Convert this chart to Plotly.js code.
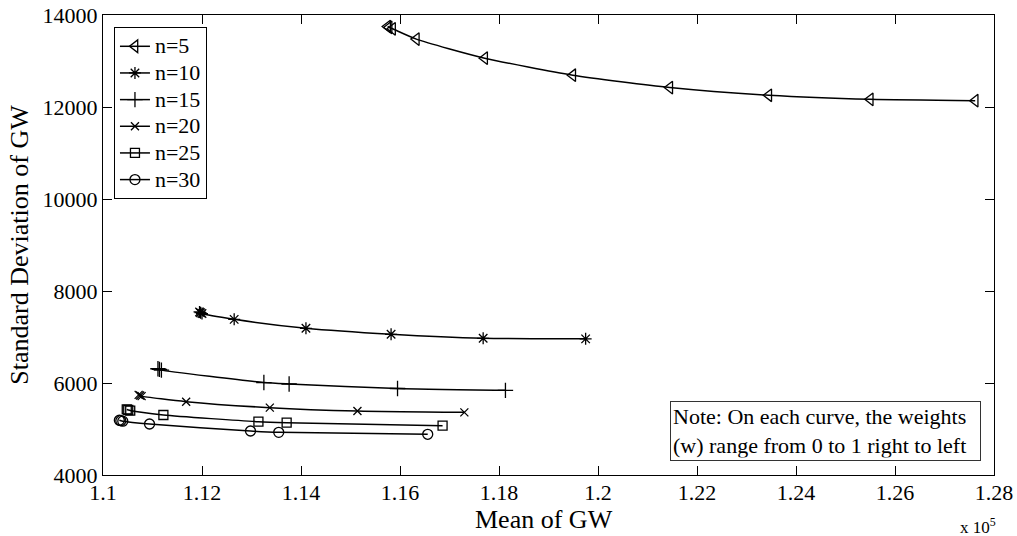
<!DOCTYPE html>
<html>
<head>
<meta charset="utf-8">
<script src="https://cdn.plot.ly/plotly-3.0.1.min.js"></script>
<style>html,body{margin:0;padding:0;background:#fff;}#chart{width:1017px;height:536px;}</style>
</head>
<body>
<div id="chart"></div>
<script>
// Series names
const seriesNames = ["n=5", "n=10", "n=15", "n=20", "n=25", "n=30"];

// Mean / standard deviation of GW (ordered right to left, w from 0 to 1)
const meanN5  = [127620, 125500, 123450, 121450, 119490, 117710, 116330, 115850, 115780, 115750];
const stdN5   = [12138, 12167, 12255, 12422, 12691, 13062, 13476, 13700, 13730, 13750];

const meanN10 = [119750, 117680, 115820, 114100, 112650, 112000, 111970, 111950];
const stdN10  = [6960, 6972, 7059, 7189, 7384, 7510, 7528, 7545];

const meanN15 = [118130, 115950, 113760, 113250, 111180, 111140, 111110];
const stdN15  = [5840, 5880, 5978, 6010, 6280, 6297, 6310];

const meanN20 = [117300, 115140, 113370, 111680, 110780, 110750, 110720];
const stdN20  = [5362, 5391, 5464, 5594, 5715, 5730, 5742];

const meanN25 = [116860, 113710, 113140, 111220, 110550, 110510, 110480];
const stdN25  = [5072, 5137, 5159, 5304, 5400, 5413, 5425];

const meanN30 = [116560, 113550, 112980, 110940, 110400, 110360, 110330];
const stdN30  = [4885, 4928, 4957, 5109, 5170, 5180, 5190];

// Tick labels
const xTickVals = [110000, 112000, 114000, 116000, 118000, 120000, 122000, 124000, 126000, 128000];
const xTickText = ["1.1", "1.12", "1.14", "1.16", "1.18", "1.2", "1.22", "1.24", "1.26", "1.28"];
const yTickVals = [4000, 6000, 8000, 10000, 12000, 14000];
const yTickText = ["4000", "6000", "8000", "10000", "12000", "14000"];

// Texts
const xTitle = "Mean of GW";
const yTitle = "Standard Deviation of GW";
const noteText = "Note: On each curve, the weights<br>(w) range from 0 to 1 right to left";
const exponentText = "x 10<sup>5</sup>";

const FONT = "Liberation Serif";

const allMeans = [meanN5, meanN10, meanN15, meanN20, meanN25, meanN30];
const allStds = [stdN5, stdN10, stdN15, stdN20, stdN25, stdN30];
const symbols = ["triangle-left-open", "asterisk-open", "cross-thin-open", "x-thin-open", "square-open", "circle-open"];
const sizes = [11, 10, 11, 8, 9, 10];

const traces = seriesNames.map((name, i) => ({
  type: "scatter",
  mode: "lines+markers",
  name: "<span style='font-size:22px'>" + name + "</span>",
  x: allMeans[i],
  y: allStds[i],
  line: {color: "#000", width: 1.5, shape: "spline", smoothing: 0.6},
  marker: {symbol: symbols[i], size: sizes[i], color: "#000", line: {color: "#000", width: 1.3}}
}));

const layout = {
  width: 1017,
  height: 536,
  margin: {l: 103, r: 23, t: 15, b: 61},
  paper_bgcolor: "#fff",
  plot_bgcolor: "#fff",
  font: {family: FONT, size: 22, color: "#000"},
  showlegend: true,
  legend: {
    x: 0.0123, y: 0.974, xanchor: "left", yanchor: "top",
    bgcolor: "#fff", bordercolor: "#000", borderwidth: 1,
    font: {family: FONT, size: 18.2, color: "#000"},
    itemwidth: 30, tracegroupgap: 0
  },
  xaxis: {
    range: [110000, 128000],
    tickmode: "array", tickvals: xTickVals, ticktext: xTickText,
    ticks: "inside", ticklen: 9, tickcolor: "#000", tickwidth: 1,
    ticklabelstandoff: -2,
    showline: true, linecolor: "#000", linewidth: 1, mirror: "ticks",
    showgrid: false, zeroline: false,
    tickfont: {family: FONT, size: 22, color: "#000"}
  },
  yaxis: {
    range: [4000, 14000],
    tickmode: "array", tickvals: yTickVals, ticktext: yTickText,
    ticks: "inside", ticklen: 9, tickcolor: "#000", tickwidth: 1,
    showline: true, linecolor: "#000", linewidth: 1, mirror: "ticks",
    showgrid: false, zeroline: false,
    tickfont: {family: FONT, size: 22, color: "#000"},
    title: {text: yTitle, font: {family: FONT, size: 26, color: "#000"}, standoff: 6}
  },
  annotations: [
    {
      xref: "paper", yref: "paper", x: 0.4955, y: -0.097, xanchor: "center", yanchor: "middle",
      text: xTitle, showarrow: false,
      font: {family: FONT, size: 26, color: "#000"}
    },
    {
      xref: "paper", yref: "paper", x: 0.985, y: 0.03, xanchor: "right", yanchor: "bottom",
      text: noteText, width: 305,
      align: "left", showarrow: false,
      bordercolor: "#333", borderwidth: 1, borderpad: 2, bgcolor: "#fff",
      font: {family: FONT, size: 22, color: "#000"}
    },
    {
      xref: "paper", yref: "paper", x: 0.982, y: -0.11, xanchor: "center", yanchor: "middle",
      text: exponentText, showarrow: false,
      font: {family: FONT, size: 17, color: "#000"}
    }
  ]
};

Plotly.newPlot("chart", traces, layout, {displayModeBar: false, staticPlot: true});
</script>
</body>
</html>
